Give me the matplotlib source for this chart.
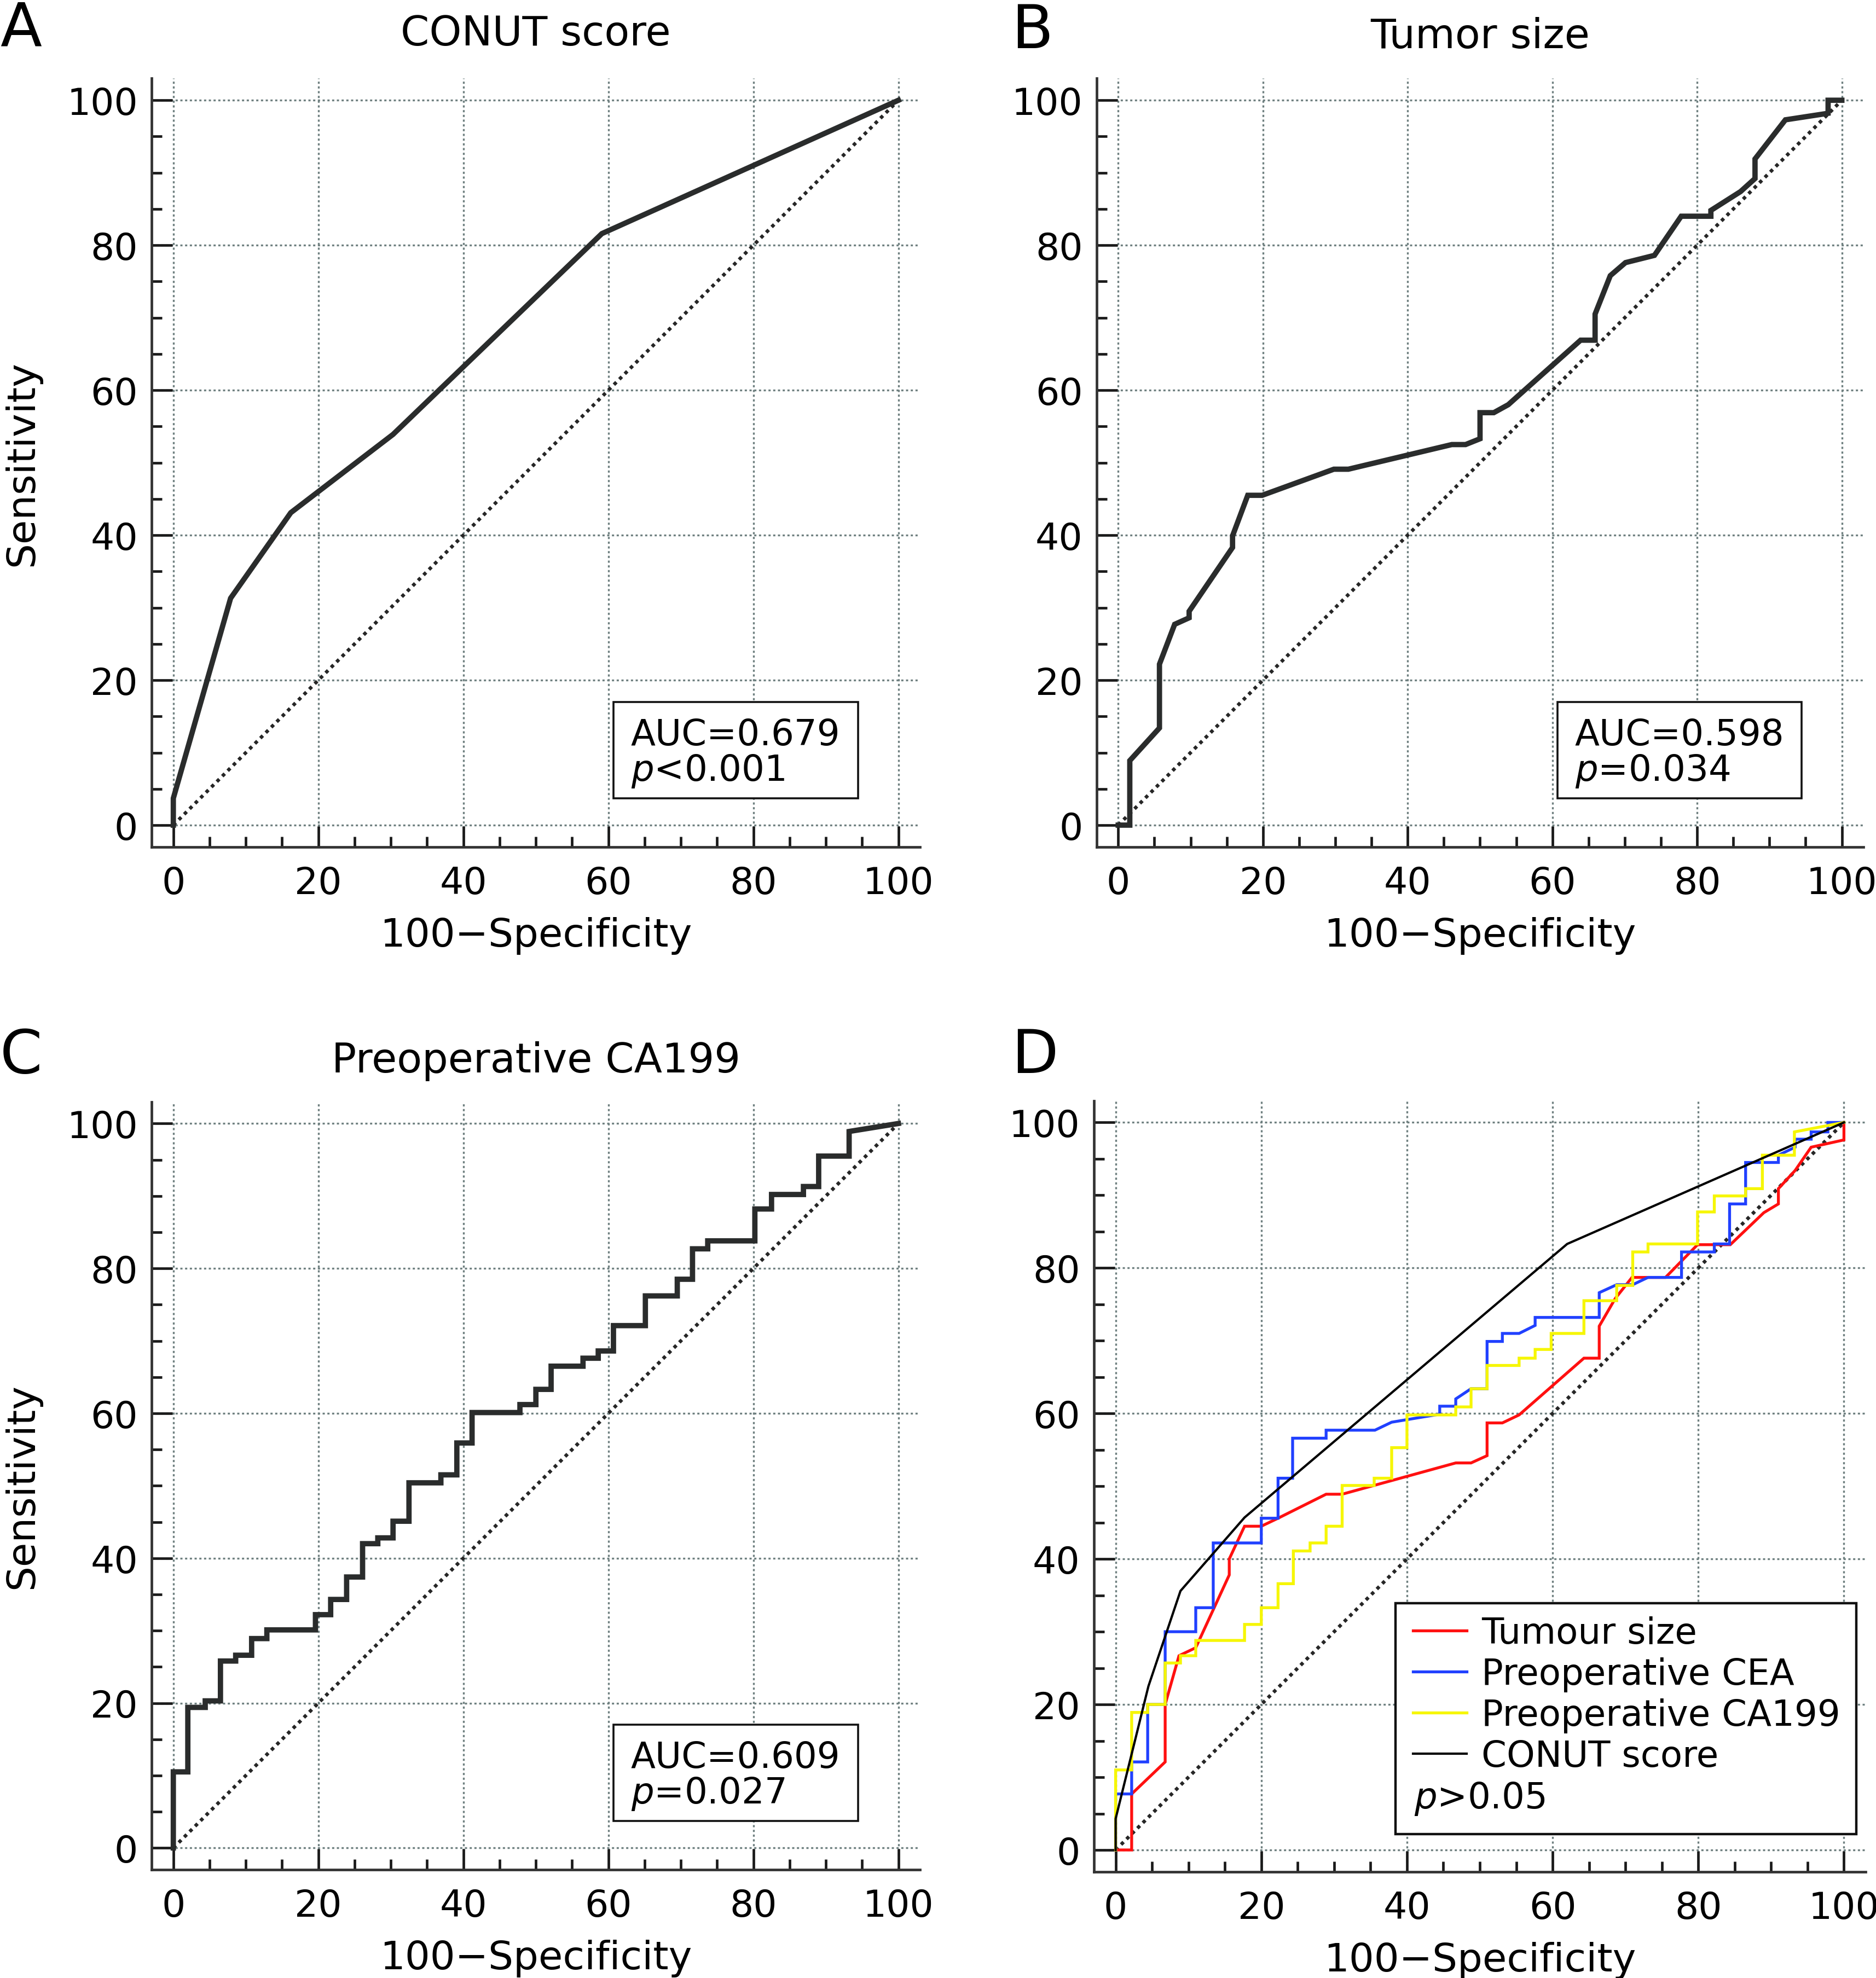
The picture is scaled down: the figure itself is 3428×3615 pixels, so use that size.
import matplotlib
matplotlib.use("Agg")
import matplotlib.pyplot as plt
from matplotlib.patches import Rectangle
from matplotlib.ticker import MultipleLocator

plt.rcParams['font.family'] = ['DejaVu Sans']
plt.rcParams['mathtext.fontset'] = 'dejavusans'

# ---------------- data ----------------
ref_diag = [0, 100]

# Panel A: CONUT score ROC
conut_roc = [(0, 0), (0, 3.7), (7.9, 31.3), (16.2, 43.1), (30.3, 53.9), (59.1, 81.6), (100, 100)]

# Panel B: Tumor size ROC
tumor_roc = [(0, 0), (1.6, 0), (1.6, 8.9), (5.7, 13.4), (5.7, 22.2), (7.8, 27.7), (9.8, 28.6),
             (9.8, 29.5), (15.8, 38.3), (15.8, 39.9), (17.9, 45.5), (19.9, 45.5), (29.8, 49.1),
             (31.8, 49.1), (46.1, 52.5), (48.0, 52.5), (50.0, 53.3), (50.0, 56.9), (51.9, 56.9),
             (53.9, 58.0), (63.9, 66.9), (65.9, 66.9), (65.9, 70.5), (68.0, 75.8), (70.1, 77.6),
             (74.1, 78.6), (77.8, 84.0), (81.9, 84.0), (81.9, 84.8), (86.0, 87.4), (88.0, 89.2),
             (88.0, 91.9), (92.2, 97.3), (98.1, 98.2), (98.1, 100), (100, 100)]

# Panel C: Preoperative CA199 ROC (staircase)
ca199_roc = [(0, 0), (0, 10.5), (2.0, 10.5), (2.0, 19.4), (4.4, 19.4), (4.4, 20.3), (6.5, 20.3),
             (6.5, 25.8), (8.6, 25.8), (8.6, 26.6), (10.8, 26.6), (10.8, 28.9), (12.9, 28.9),
             (12.9, 30.1), (19.6, 30.1), (19.6, 32.2), (21.7, 32.2), (21.7, 34.3), (23.9, 34.3),
             (23.9, 37.4), (26.1, 37.4), (26.1, 42.0), (28.2, 42.0), (28.2, 42.8), (30.3, 42.8),
             (30.3, 45.1), (32.5, 45.1), (32.5, 50.4), (36.9, 50.4), (36.9, 51.5), (39.1, 51.5),
             (39.1, 55.9), (41.2, 55.9), (41.2, 60.1), (47.8, 60.1), (47.8, 61.2), (50.0, 61.2),
             (50.0, 63.3), (52.1, 63.3), (52.1, 66.5), (56.5, 66.5), (56.5, 67.6), (58.6, 67.6),
             (58.6, 68.6), (60.7, 68.6), (60.7, 72.1), (65.1, 72.1), (65.1, 76.2), (69.5, 76.2),
             (69.5, 78.5), (71.6, 78.5), (71.6, 82.7), (73.7, 82.7), (73.7, 83.8), (80.2, 83.8),
             (80.2, 88.2), (82.5, 88.2), (82.5, 90.2), (86.9, 90.2), (86.9, 91.3), (89.0, 91.3),
             (89.0, 95.5), (93.2, 95.5), (93.2, 98.9), (100, 100)]

# Panel D: comparison
d_tumour = [(0, 0), (2.2, 0), (2.2, 7.7), (6.8, 12.1), (6.8, 20.0), (8.7, 26.7), (11.0, 27.8),
            (15.6, 37.8), (15.6, 40.0), (17.7, 44.5), (20.0, 44.5), (22.3, 45.6), (28.9, 48.9),
            (31.1, 48.9), (46.7, 53.2), (48.8, 53.2), (51.0, 54.2), (51.0, 58.7), (53.1, 58.7),
            (55.4, 59.8), (64.3, 67.6), (66.4, 67.6), (66.4, 72.0), (68.6, 75.8), (70.9, 78.7),
            (75.5, 78.7), (79.9, 83.2), (84.4, 83.2), (89.0, 87.6), (91.0, 88.8), (91.0, 90.9),
            (93.3, 93.4), (95.5, 96.6), (100, 97.6), (100, 100)]
d_cea = [(0, 0), (0, 7.7), (2.2, 7.7), (2.2, 12.1), (4.4, 12.1), (4.4, 20.0), (6.8, 20.0),
         (6.8, 30.0), (11.0, 30.0), (11.0, 33.3), (13.4, 33.3), (13.4, 42.2), (20.0, 42.2),
         (20.0, 45.6), (22.3, 45.6), (22.3, 51.1), (24.3, 51.1), (24.3, 56.6), (28.9, 56.6),
         (28.9, 57.7), (35.6, 57.7), (37.9, 58.8), (44.5, 59.9), (44.5, 61.0), (46.7, 61.0),
         (46.7, 62.0), (48.8, 63.4), (51.0, 63.4), (51.0, 69.9), (53.1, 69.9), (53.1, 71.0),
         (55.4, 71.0), (57.6, 72.1), (57.6, 73.2), (66.4, 73.2), (66.4, 76.6), (68.8, 77.7),
         (71.0, 77.7), (73.1, 78.7), (77.7, 78.7), (77.7, 82.2), (82.2, 82.2), (82.2, 83.3),
         (84.3, 83.3), (84.3, 88.8), (86.5, 88.8), (86.5, 94.5), (91.0, 94.5), (91.0, 95.5),
         (93.3, 96.6), (93.3, 97.7), (95.5, 97.7), (95.5, 98.7), (97.8, 98.7), (97.8, 100),
         (100, 100)]
d_ca199 = [(0, 0), (0, 11.0), (2.2, 11.0), (2.2, 18.9), (4.4, 18.9), (4.4, 20.0), (6.8, 20.0),
           (6.8, 25.7), (8.9, 25.7), (8.9, 26.7), (11.0, 26.7), (11.0, 28.8), (17.7, 28.8),
           (17.7, 31.0), (20.0, 31.0), (20.0, 33.3), (22.3, 33.3), (22.3, 36.6), (24.4, 36.6),
           (24.4, 41.1), (26.7, 41.1), (26.7, 42.2), (28.9, 42.2), (28.9, 44.5), (31.1, 44.5),
           (31.1, 50.1), (35.5, 50.1), (35.5, 51.1), (37.9, 51.1), (37.9, 55.3), (40.0, 55.3),
           (40.0, 59.8), (46.7, 59.8), (46.7, 60.9), (48.8, 60.9), (48.8, 63.4), (51.0, 63.4),
           (51.0, 66.6), (55.4, 66.6), (55.4, 67.6), (57.6, 67.6), (57.6, 68.8), (59.8, 68.8),
           (59.8, 71.0), (64.3, 71.0), (64.3, 75.5), (68.8, 75.5), (68.8, 77.6), (71.0, 77.6),
           (71.0, 82.2), (73.1, 82.2), (73.1, 83.3), (79.9, 83.3), (79.9, 87.7), (82.2, 87.7),
           (82.2, 89.9), (86.5, 89.9), (86.5, 90.9), (88.8, 90.9), (88.8, 95.5), (93.2, 95.5),
           (93.2, 98.7), (100, 100)]
d_conut = [(0, 0), (0, 4.3), (4.5, 22.5), (8.9, 35.6), (17.7, 45.7), (62.0, 83.3), (100, 100)]

d_labels = ["Tumour size", "Preoperative CEA", "Preoperative CA199", "CONUT score"]
d_colors = ["#ff1010", "#2040ff", "#f6f600", "#000000"]

auc_texts = {"A": ("AUC=0.679", "$p$<0.001"),
             "B": ("AUC=0.598", "$p$=0.034"),
             "C": ("AUC=0.609", "$p$=0.027")}
d_p_text = "$p$>0.05"
titles = {"A": "CONUT score", "B": "Tumor size", "C": "Preoperative CA199", "D": ""}

# ---------------- layout ----------------
W, H = 3428, 3616
DPI = 200
fig = plt.figure(figsize=(W / DPI, H / DPI), dpi=DPI)


def rect_from_px(x0, x100, y0, y100, lo=-3, hi=103):
    ux = (x100 - x0) / 100.0
    uy = (y0 - y100) / 100.0
    left = x0 + lo * ux
    right = x0 + hi * ux
    bottom = y0 - lo * uy
    top = y0 - hi * uy
    return [left / W, 1 - bottom / H, (right - left) / W, (bottom - top) / H]


panel_px = {"A": (316.7, 1641.7, 1509.0, 184.2),
            "B": (2043.3, 3365.6, 1509.0, 184.2),
            "C": (316.7, 1641.7, 3378.3, 2054.3),
            "D": (2038.6, 3369.4, 3382.0, 2052.4)}

SPINE = "#333333"
GRID = "#6f8080"
CURVE = "#2a2c2c"
TICK_FS = 24.5
LABEL_FS = 26
TITLE_FS = 27


def style(ax):
    ax.set_xlim(-3, 103)
    ax.set_ylim(-3, 103)
    for s in ("top", "right"):
        ax.spines[s].set_visible(False)
    for s in ("left", "bottom"):
        ax.spines[s].set_linewidth(1.7)
        ax.spines[s].set_color(SPINE)
    for axis in (ax.xaxis, ax.yaxis):
        axis.set_major_locator(MultipleLocator(20))
        axis.set_minor_locator(MultipleLocator(5))
    ax.tick_params(which="major", direction="in", length=13.7, width=1.7,
                   color="#1a1a1a", labelsize=TICK_FS)
    ax.tick_params(which="minor", direction="in", length=6.8, width=1.7, color="#1a1a1a")
    ax.tick_params(axis="x", which="major", pad=12)
    ax.tick_params(axis="y", which="major", pad=9)
    ax.grid(True, which="major", color=GRID, lw=1.2, linestyle=(0, (1.2, 1.4)))
    ax.set_axisbelow(True)
    ax.plot(ref_diag, ref_diag, color="#262626", lw=2.3, linestyle=(0, (1, 1.2)),
            zorder=2)
    ax.set_xlabel("100\u2212Specificity", fontsize=LABEL_FS, labelpad=10)


def xy(pairs):
    return [p[0] for p in pairs], [p[1] for p in pairs]


def auc_box(ax, lines):
    ax.add_patch(Rectangle((60.7, 3.7), 33.7, 13.3, fc="white", ec="#111111",
                           lw=1.3, zorder=5, clip_on=False))
    ax.text(63.1, 11.1, lines[0], fontsize=23.7, va="baseline", ha="left", zorder=6)
    ax.text(63.1, 6.2, lines[1], fontsize=23.7, va="baseline", ha="left", zorder=6)


axes = {}
for key in "ABCD":
    ax = fig.add_axes(rect_from_px(*panel_px[key]))
    style(ax)
    axes[key] = ax

title_pad = {"A": 22, "B": 20.5, "C": 19.5}
for key in "ABC":
    axes[key].set_title(titles[key], fontsize=TITLE_FS, pad=title_pad[key])

for key in "AC":
    axes[key].set_ylabel("Sensitivity", fontsize=LABEL_FS, labelpad=17)

for key, curve in (("A", conut_roc), ("B", tumor_roc), ("C", ca199_roc)):
    x, y = xy(curve)
    axes[key].plot(x, y, color=CURVE, lw=3.5, solid_joinstyle="miter", zorder=3)
    auc_box(axes[key], auc_texts[key])

axD = axes["D"]
handles = []
for curve, lab, col in zip((d_tumour, d_cea, d_ca199, d_conut), d_labels, d_colors):
    x, y = xy(curve)
    lw = 1.5 if col == "#000000" else 1.9
    ln, = axD.plot(x, y, color=col, lw=lw, label=lab, solid_joinstyle="miter", zorder=3)
    handles.append(ln)

axD.add_patch(Rectangle((38.4, 2.2), 63.3, 31.7, fc="white", ec="#111111", lw=1.6,
                        zorder=5, clip_on=False))
leg = axD.legend(handles=handles, labels=d_labels, loc="upper left",
                 bbox_to_anchor=(40.8, 32.2), bbox_transform=axD.transData,
                 frameon=False, fontsize=23.7, borderpad=0, borderaxespad=0,
                 handlelength=1.5, handletextpad=0.4, labelspacing=0.17)
leg.set_zorder(6)
axD.text(41.0, 5.8, d_p_text, fontsize=23.7, va="baseline", ha="left", zorder=6)

# panel letters
letters = {"A": (0, 84), "B": (1848, 88), "C": (0, 1961), "D": (1848, 1961)}
for k, (px, py) in letters.items():
    fig.text(px / W, 1 - py / H, k, fontsize=40, ha="left", va="baseline")

fig.savefig("out.png", dpi=DPI)
